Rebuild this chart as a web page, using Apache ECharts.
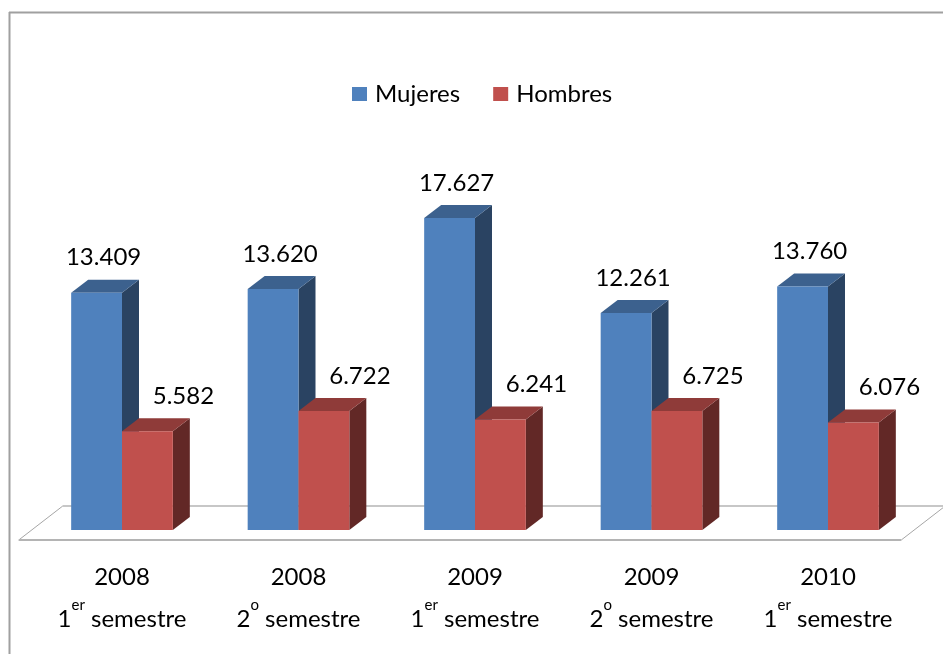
<!DOCTYPE html>
<html><head><meta charset="utf-8">
<style>html,body{margin:0;padding:0;background:#fff}#c{width:943px;height:654px}</style>
<script src="https://cdn.jsdelivr.net/npm/echarts@6/dist/echarts.min.js"></script>
</head><body><div id="c"></div>
<script>
const years = ['2008','2008','2009','2009','2010'];
const ordinals = ['1','2','1','2','1'];
const suffixes = ['er','o','er','o','er'];
const mujeres = [13409,13620,17627,12261,13760];
const hombres = [5582,6722,6241,6725,6076];
const categories = years.map((y,i)=>y+' '+ordinals[i]+suffixes[i]+' semestre');
const FONT='Lato';
const DX=17,DY=13;
function fmt(v){return String(v).replace(/(\d)(\d{3})$/,'$1.$2');}
function bar3d(front,top,side,dir,labelDx){
  return function(params,api){
    const c=api.coord([api.value(0),api.value(1)]);
    const b=api.coord([api.value(0),0]);
    const band=api.size([1,0])[0];
    const w=band*0.288;
    const x0=dir<0?c[0]-w:c[0], x1=x0+w, yT=c[1], yB=b[1];
    return {type:'group',children:[
      {type:'polygon',shape:{points:[[x1,yT],[x1+DX,yT-DY],[x1+DX,yB-DY],[x1,yB]]},style:{fill:side}},
      {type:'polygon',shape:{points:[[x0,yT],[x0+DX,yT-DY],[x1+DX,yT-DY],[x1,yT]]},style:{fill:top}},
      {type:'rect',shape:{x:x0,y:yT,width:w,height:yB-yT},style:{fill:front}},
      {type:'text',x:(x0+x1)/2+labelDx,y:yT-35,style:{text:fmt(api.value(1)),fill:'#000',font:'24px '+FONT,align:'center',verticalAlign:'middle'}}
    ]};
  };
}
function floorItem(params,api){
  const s=params.coordSys, yF=s.y+s.height;
  const L=s.x-15, R=s.x+s.width-15;
  const yFront=yF+10, yBack=yF-24;
  return {type:'group',silent:true,children:[
    {type:'line',shape:{x1:L+44,y1:yBack,x2:R+44,y2:yBack},style:{stroke:'#b4b4b4',lineWidth:1.5}},
    {type:'line',shape:{x1:L,y1:yFront,x2:L+44,y2:yBack},style:{stroke:'#a6a6a6',lineWidth:1}},
    {type:'line',shape:{x1:R,y1:yFront,x2:R+44,y2:yBack},style:{stroke:'#a6a6a6',lineWidth:1}},
    {type:'line',shape:{x1:L,y1:yFront,x2:R,y2:yFront},style:{stroke:'#b4b4b4',lineWidth:2}}
  ]};
}
const chart=echarts.init(document.getElementById('c'),null,{renderer:'canvas'});
chart.setOption({
  animation:false,
  backgroundColor:'#fff',
  grid:{left:33.75,top:176,width:882.5,height:354},
  legend:{left:347,top:77,data:['Mujeres','Hombres'],icon:'rect',itemWidth:15,itemHeight:14,itemGap:33,
    selectedMode:false,textStyle:{fontFamily:FONT,fontSize:24,color:'#000',padding:[0,0,0,3]}},
  xAxis:{type:'category',data:categories,axisLine:{show:false},axisTick:{show:false},
    axisLabel:{margin:26,interval:0,
      formatter:function(v,i){return '{y|'+years[i]+'}\n{n|'+ordinals[i]+'}{s|'+suffixes[i]+'}{n| semestre}';},
      rich:{
        y:{fontFamily:FONT,fontSize:24,color:'#000',lineHeight:42},
        n:{fontFamily:FONT,fontSize:24,color:'#000',lineHeight:42},
        s:{fontFamily:FONT,fontSize:15,color:'#000',lineHeight:42,verticalAlign:'top',padding:[0,0,8,0]}
      }}},
  yAxis:{type:'value',min:0,max:20000,show:false,splitLine:{show:false}},
  graphic:[
    {type:'line',silent:true,shape:{x1:9.5,y1:12,x2:9.5,y2:654},style:{stroke:'#a0a0a0',lineWidth:2}},
    {type:'line',silent:true,shape:{x1:9,y1:12.5,x2:943,y2:12.5},style:{stroke:'#a0a0a0',lineWidth:2}}
  ],
  series:[
    {type:'custom',name:'floor',z:1,clip:false,data:[[0,0]],renderItem:floorItem,encode:{x:0,y:1},silent:true},
    {type:'custom',name:'Mujeres',z:2,clip:false,itemStyle:{color:'#4f81bd'},
      data:mujeres.map((v,i)=>[i,v]),encode:{x:0,y:1},renderItem:bar3d('#4f81bd','#3c618e','#2a4362',-1,7)},
    {type:'custom',name:'Hombres',z:3,clip:false,itemStyle:{color:'#c0504d'},
      data:hombres.map((v,i)=>[i,v]),encode:{x:0,y:1},renderItem:bar3d('#c0504d','#8f3b39','#622826',1,36)}
  ]
});
</script></body></html>
